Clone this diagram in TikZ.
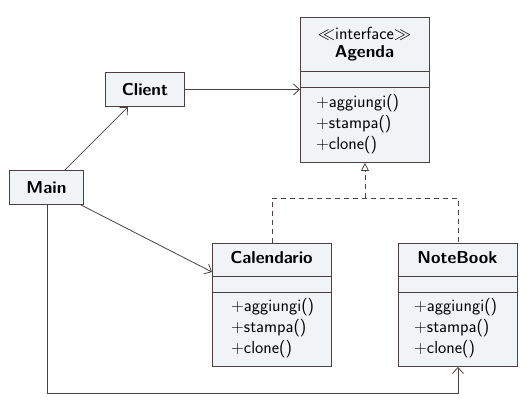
\documentclass[tikz,border=0pt]{standalone}
\usetikzlibrary{arrows.meta,calc}
\definecolor{boxfill}{HTML}{F1F4F6}
\definecolor{boxline}{HTML}{4E4040}
\begin{document}
\begin{tikzpicture}[x=1pt,y=-1pt,
  classbox/.style={draw=boxline, fill=boxfill, line width=0.9pt, anchor=north west, inner sep=0pt},
  titletext/.style={font=\sffamily\bfseries\fontsize{17.2}{20}\selectfont, text=black, inner sep=0pt},
  stereo/.style={font=\sffamily\fontsize{17.5}{20}\selectfont, text=black, inner sep=0pt},
  methods/.style={font=\sffamily\fontsize{17.5}{20.7}\selectfont, align=left, anchor=west, inner sep=0pt, text=black},
  sep/.style={draw=boxline, line width=0.9pt},
  assoc/.style={draw=boxline, line width=0.8pt, -{Straight Barb[length=6pt,width=11pt]}},
  realiz/.style={draw=boxline, line width=0.8pt, dash pattern=on 5pt off 4pt}
]
\useasboundingbox (0,0) rectangle (532,400);

% Agenda
\node[classbox, minimum width=129pt, minimum height=145pt] (agenda) at (300,17) {};
\draw[sep] (300,71) -- (429,71);
\draw[sep] (300,87) -- (429,87);
\node[stereo] (agst) at (364.5,34) {$\ll$interface$\gg$};
\node[titletext] (agname) at (364.5,53) {Agenda};
\node[methods] (agm) at (316,124) {+aggiungi()\\+stampa()\\+clone()};

% Client
\node[classbox, minimum width=79pt, minimum height=34pt] (client) at (105,72) {};
\node[titletext] (clname) at (client.center) {Client};

% Main
\node[classbox, minimum width=74pt, minimum height=34pt] (main) at (9,170) {};
\node[titletext] (mainname) at (main.center) {Main};

% Calendario
\node[classbox, minimum width=119pt, minimum height=123pt] (cal) at (212,243) {};
\draw[sep] (212,276) -- (331,276);
\draw[sep] (212,292) -- (331,292);
\node[titletext] (calname) at (271.5,258) {Calendario};
\node[methods] (calm) at (231,328) {+aggiungi()\\+stampa()\\+clone()};

% NoteBook
\node[classbox, minimum width=119pt, minimum height=123pt] (nb) at (398,243) {};
\draw[sep] (398,276) -- (517,276);
\draw[sep] (398,292) -- (517,292);
\node[titletext] (nbname) at (457.5,258) {NoteBook};
\node[methods] (nbm) at (414,328) {+aggiungi()\\+stampa()\\+clone()};

% connectors
\draw[assoc] (client.east) -- (client.east -| agenda.west);
\draw[assoc] ([xshift=-19pt]main.north east) -- ([xshift=-17pt]client.south);
\draw[assoc] ([xshift=-3pt]main.south east) -- ([yshift=-29pt]cal.north west);
\draw[assoc] ([xshift=1pt]main.south) -- ++(0,188) -| (nb.south);

\coordinate (junc) at ($(agenda.south)+(0,35)$);
\draw[realiz] (cal.north) |- (junc) -| (nb.north);
\draw[realiz, -{Triangle[open, length=8pt, width=8pt]}] (junc) -- (agenda.south);
\end{tikzpicture}
\end{document}
